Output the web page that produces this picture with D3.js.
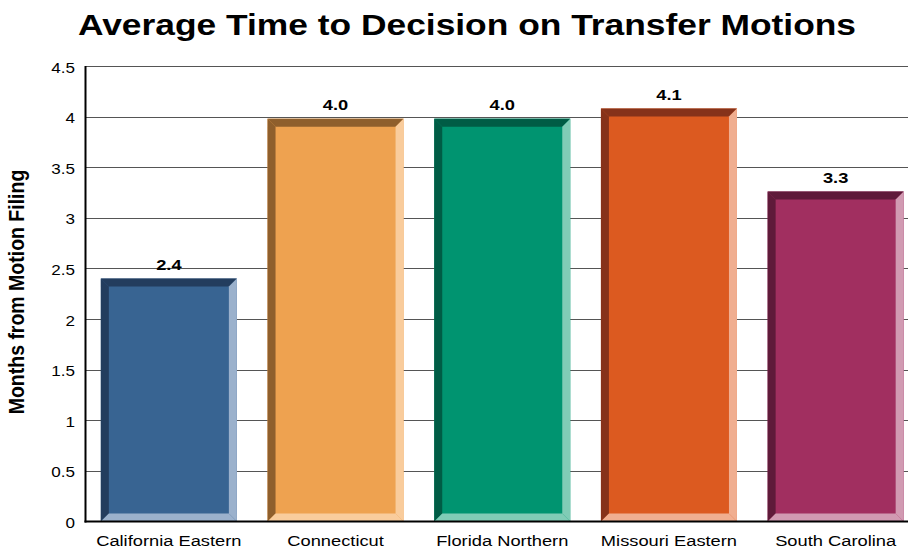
<!DOCTYPE html>
<html>
<head>
<meta charset="utf-8">
<script src="https://cdn.jsdelivr.net/npm/d3@7/dist/d3.min.js"></script>
<style>
  html, body { margin: 0; padding: 0; background: #fff; }
  svg { display: block; font-family: "Liberation Sans", Arial, sans-serif; }
</style>
</head>
<body>
<svg id="chart" width="908" height="552"></svg>
<script>
// ---- data ----
const categories = ["California Eastern", "Connecticut", "Florida Northern", "Missouri Eastern", "South Carolina"];
const values = [2.4, 3.98, 3.98, 4.08, 3.26];
const yTicks = [0, 0.5, 1, 1.5, 2, 2.5, 3, 3.5, 4, 4.5];
const faceColors = ["#386492", "#eea250", "#009470", "#dc5a20", "#a12f60"];
const darkColors = ["#233d5e", "#8f5f2c", "#005c45", "#86321a", "#5f1a3a"];
const lightColors = ["#9bb1cc", "#f9cc9c", "#80ccb6", "#f0ae90", "#d19ab2"];
const title = "Average Time to Decision on Transfer Motions";
const yTitle = "Months from Motion Filing";

(function () {
const svg = d3.select("#chart");
const pLeft = 85.5, pRight = 919, pTop = 66, pBottom = 521.5;
const sx = 1.22; // horizontal text stretch seen in the reference

const x = d3.scaleBand().domain(categories).range([pLeft, pRight])
  .paddingInner(0.184).paddingOuter(0.092);
const y = d3.scaleLinear().domain([0, 4.5]).range([pBottom, pTop]);

// grid lines
svg.append("g").selectAll("line").data(yTicks.filter(t => t > 0)).join("line")
  .attr("x1", pLeft).attr("x2", 908)
  .attr("y1", d => Math.round(y(d)) + 0.5).attr("y2", d => Math.round(y(d)) + 0.5)
  .attr("stroke", "#555").attr("stroke-width", 1);

// bars with bevel
const b = 8;
const bars = svg.append("g").selectAll("g").data(categories).join("g");
bars.each(function(c, i) {
  const g = d3.select(this);
  const x0 = x(c), x1 = x(c) + x.bandwidth();
  const y0 = y(values[i]), y1 = y(0);
  g.append("rect").attr("x", x0).attr("y", y0).attr("width", x1 - x0).attr("height", y1 - y0)
    .attr("fill", faceColors[i]);
  g.append("polygon").attr("points", [[x0, y0], [x1, y0], [x1 - b, y0 + b], [x0 + b, y0 + b]].join(" "))
    .attr("fill", darkColors[i]);
  g.append("polygon").attr("points", [[x0, y0], [x0 + b, y0 + b], [x0 + b, y1 - b], [x0, y1]].join(" "))
    .attr("fill", darkColors[i]);
  g.append("polygon").attr("points", [[x1, y0], [x1, y1], [x1 - b, y1 - b], [x1 - b, y0 + b]].join(" "))
    .attr("fill", lightColors[i]);
  g.append("polygon").attr("points", [[x0, y1], [x1, y1], [x1 - b, y1 - b], [x0 + b, y1 - b]].join(" "))
    .attr("fill", lightColors[i]);
});

// value labels
svg.append("g").selectAll("text").data(categories).join("text")
  .attr("transform", (c, i) => `translate(${x(c) + x.bandwidth() / 2},${y(values[i]) - 9}) scale(${sx},1)`)
  .attr("text-anchor", "middle")
  .attr("font-size", 15).attr("font-weight", "bold").attr("fill", "#000")
  .text((c, i) => d3.format(".1f")(values[i]));

// axes lines
svg.append("line").attr("x1", pLeft).attr("x2", pLeft).attr("y1", pTop).attr("y2", pBottom + 1)
  .attr("stroke", "#000").attr("stroke-width", 2);
svg.append("line").attr("x1", pLeft - 1).attr("x2", 908).attr("y1", pBottom).attr("y2", pBottom)
  .attr("stroke", "#000").attr("stroke-width", 2);

// y tick labels
svg.append("g").selectAll("text").data(yTicks).join("text")
  .attr("transform", d => `translate(75,${y(d) + 6.5}) scale(${sx},1)`)
  .attr("text-anchor", "end").attr("font-size", 14).attr("fill", "#000")
  .text(d => d3.format("")(d));

// x labels
svg.append("g").selectAll("text").data(categories).join("text")
  .attr("transform", c => `translate(${x(c) + x.bandwidth() / 2},546) scale(${sx},1)`)
  .attr("text-anchor", "middle").attr("font-size", 15).attr("fill", "#000")
  .text(c => c);

// title
svg.append("text").attr("transform", `translate(467,35) scale(${sx},1)`).attr("text-anchor", "middle")
  .attr("font-size", 29).attr("font-weight", "bold").text(title);

// y title
svg.append("text").attr("transform", `translate(24,292) scale(1.12,1) rotate(-90)`)
  .attr("text-anchor", "middle").attr("font-size", 19.5).attr("font-weight", "bold").text(yTitle);
})();
</script>
</body>
</html>
